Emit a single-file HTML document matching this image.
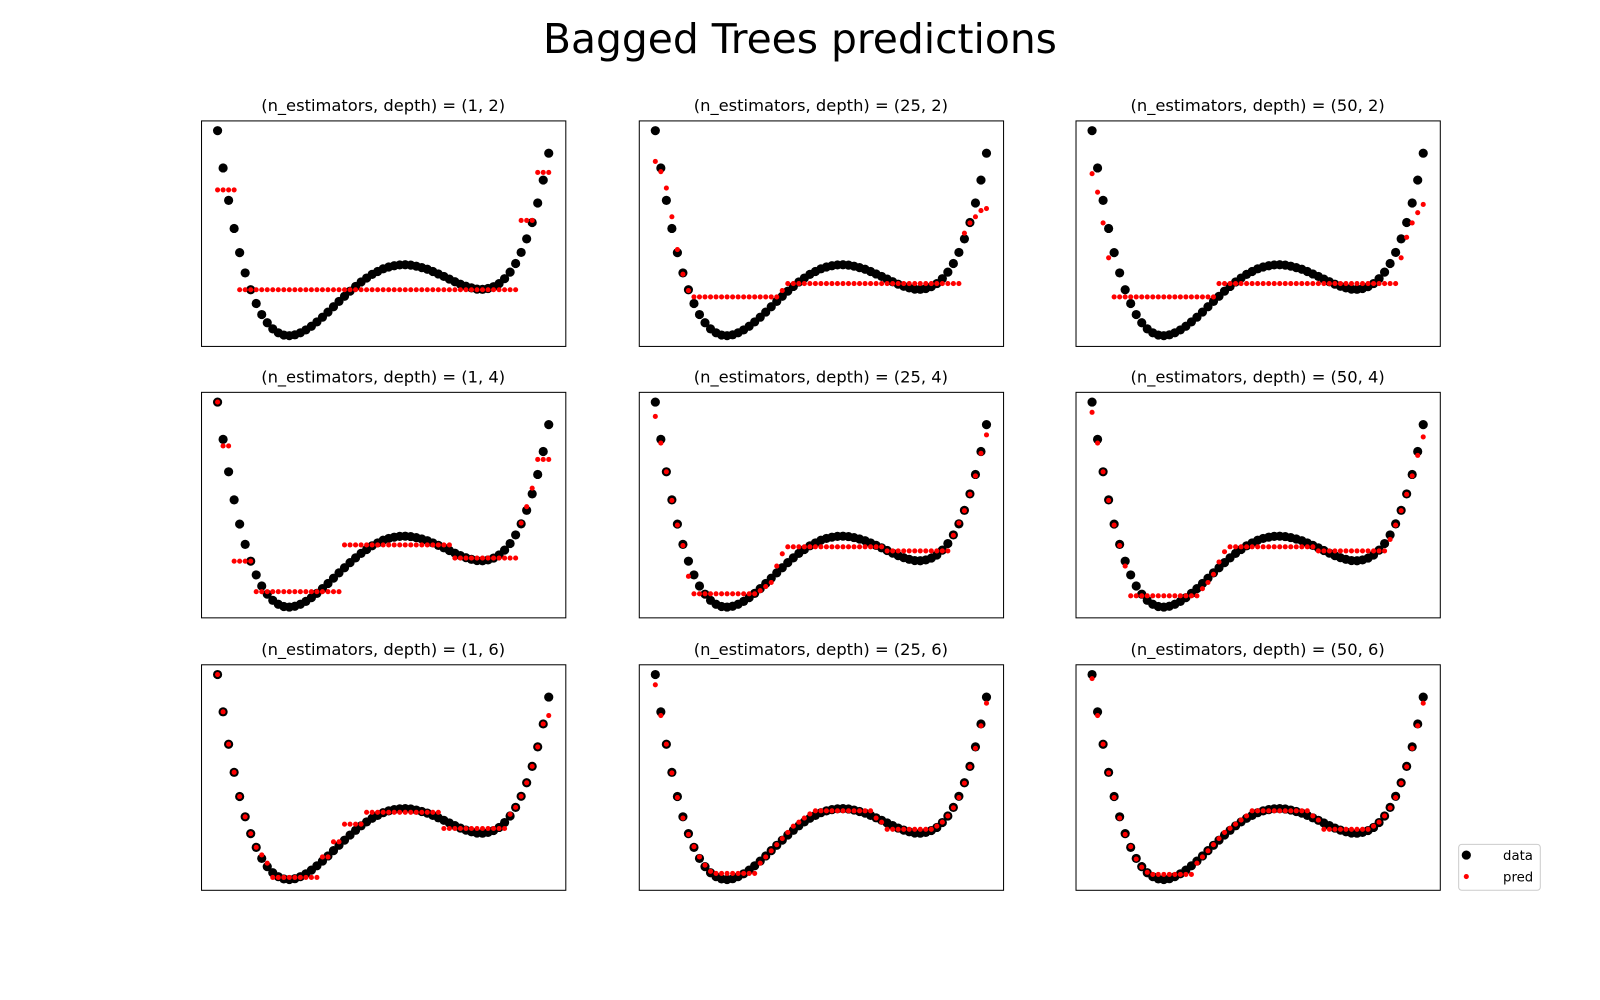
<!DOCTYPE html>
<html><head><meta charset="utf-8"><style>
body{margin:0;background:#fff;}
svg{display:block;font-family:"DejaVu Sans","Liberation Sans",sans-serif;}
</style></head><body>
<svg width="1600" height="1000" viewBox="0 0 1600 1000">
<rect width="1600" height="1000" fill="#fff"/>
<g id="fig" transform="scale(1.0204)">
<text x="784" y="52" font-size="40" text-anchor="middle">Bagged Trees predictions</text>
<g>
<rect x="1429.5" y="827.5" width="80" height="45" rx="3" fill="#fff" stroke="#ccc"/>
<circle cx="1437" cy="838" r="4.5" fill="#000"/>
<text x="1473" y="843" font-size="13">data</text>
<circle cx="1437" cy="859" r="2.5" fill="red"/>
<text x="1473" y="864" font-size="13">pred</text>
</g>
</g>
</svg>
<script>
const dataY=[1.000,.818,.660,.523,.405,.306,.224,.157,.103,.063,.033,.014,.003,.000,.004,.014,.028,.046,.067,.090,.115,.141,.167,.192,.217,.240,.262,.281,.299,.313,.326,.335,.341,.345,.346,.344,.339,.332,.324,.313,.301,.289,.276,.263,.251,.241,.233,.227,.226,.230,.239,.254,.278,.310,.352,.406,.472,.552,.647,.759,.890];
function rep(v,n){return Array(n).fill(v);}
const predN1D2=[].concat(rep(.711,4),rep(.224,51),rep(.562,3),rep(.796,3));
const predN25D2=[].concat([.85,.80,.72,.58,.42,.30,.22],rep(.189,16),[.22],rep(.254,32),[.50,.55,.58,.61,.62]);
const predN50D2=[].concat([.79,.70,.55,.38],rep(.189,19),rep(.254,33),[.38,.48,.55,.60,.64]);
const predN1D4=[].concat([1.0],rep(.786,2),rep(.224,4),rep(.075,16),rep(.303,20),rep(.239,12),[.41,.49,.58],rep(.72,3));
const predN25D4=[].concat([.93,.80,.66,.52,.40,.30,.15],rep(.065,12),[.08,.10,.12,.20,.26],rep(.294,18),rep(.274,12),[.35,.41,.47,.55,.64,.75,.84]);
const predN50D4=[].concat([.95,.80,.66,.52,.40,.30,.20],rep(.055,13),[.09,.12,.16,.22,.27],rep(.294,16),rep(.274,13),[.33,.40,.47,.55,.64,.74,.83]);
const predN1D6=[].concat([1.0,.818,.660,.523,.405,.306,.224,.157,.12,.08],rep(.01,9),rep(.11,2),rep(.184,2),rep(.27,4),rep(.328,14),rep(.249,12),[.318,.352,.406,.472,.552,.647,.759,.80]);
const predN25D6=[].concat([.95,.80,.66,.52,.40,.30,.22,.16,.11,.07,.04],rep(.03,8),[.08,.11,.14,.17,.20,.23,.26,.28,.30,.32],rep(.335,11),[.30,.28],rep(.245,9),[.26,.28,.31,.35,.40,.47,.55,.64,.75,.86]);
const predN50D6=[].concat([.98,.80,.66,.52,.40,.30,.22,.16,.10,.06,.035],rep(.025,8),[.08,.11,.14,.17,.20,.23,.25,.27,.29,.31],rep(.335,11),[.31,.29],rep(.245,9),[.26,.28,.31,.35,.40,.47,.55,.64,.75,.86]);
const nEstimators=[1,25,50];
const depths=[2,4,6];
const preds=[[predN1D2,predN25D2,predN50D2],[predN1D4,predN25D4,predN50D4],[predN1D6,predN25D6,predN50D6]];

const NS="http://www.w3.org/2000/svg";
const svg=document.getElementById('fig');
const colX=[197,626,1054], rowY=[118,384,651], W=357, H=221;
function mk(tag,attrs){const e=document.createElementNS(NS,tag);for(const k in attrs)e.setAttribute(k,attrs[k]);return e;}
for(let r=0;r<3;r++)for(let c=0;c<3;c++){
  const x0=colX[c],y0=rowY[r];
  const n=dataY.length-1;
  const sx=k=>x0+W*(k+0.05*n)/(1.1*n);
  const sy=v=>y0+H-H*(v+0.05)/1.1;
  const g=mk('g',{});
  
  
  const t=mk('text',{x:x0+W/2,y:y0-9,'font-size':16,'text-anchor':'middle'});
  t.textContent='(n_estimators, depth) = ('+nEstimators[c]+', '+depths[r]+')';
  
  
  g.appendChild(t);
  const box=mk('rect',{x:x0+0.5,y:y0+0.5,width:W,height:H,fill:'none',stroke:'#000','stroke-width':1});
  
  
  g.appendChild(box);
  dataY.forEach((v,k)=>{const p=mk('circle',{cx:sx(k),cy:sy(v),r:4.5,fill:'#000'});
    
    
    g.appendChild(p);});
  preds[r][c].forEach((v,k)=>{const p=mk('circle',{cx:sx(k),cy:sy(v),r:2.5,fill:'red'});
    
    
    g.appendChild(p);});
  svg.appendChild(g);
}
</script>
</body></html>
